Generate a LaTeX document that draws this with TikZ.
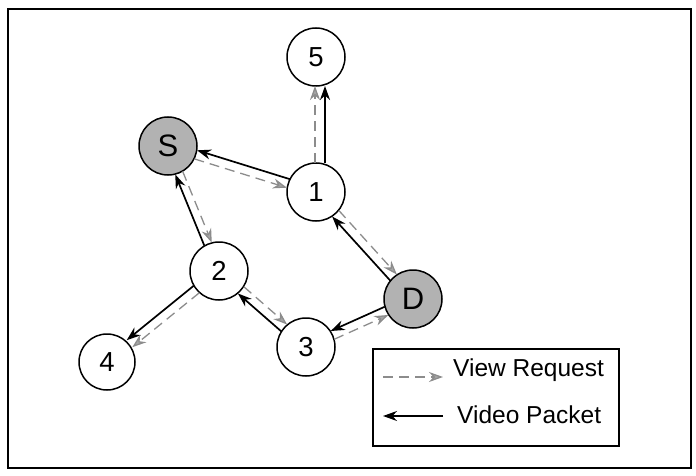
\documentclass[tikz,border=0pt]{standalone}
\usepackage{fontspec}
\setmainfont{Liberation Sans}
\usetikzlibrary{calc,arrows.meta}
\tikzset{
  vnode/.style={circle,draw=black,line width=1.5pt,fill=white,minimum size=58pt,inner sep=0pt,
    font=\fontsize{27.5}{27.5}\selectfont},
  endnode/.style={vnode,fill=black!30,font=\fontsize{31}{31}\selectfont},
  video/.style={draw=black,line width=1.7pt,-{Stealth[length=14pt,width=10pt]}},
  request/.style={draw=black!45,line width=1.3pt,dash pattern=on 10pt off 6pt,
    -{Stealth[length=14pt,width=10pt,color=black!45,fill=black!35]}},
  legtext/.style={anchor=west,inner sep=0pt,font=\fontsize{24.5}{24.5}\selectfont}
}
\newcommand\pairlink[4]{%
  \path ($(#2.center)!#4!90:(#3.center)$) coordinate (lkA)
        ($(#3.center)!#4!-90:(#2.center)$) coordinate (lkB);
  \draw[#1] ($(lkA)!29pt!(lkB)$) -- ($(lkB)!29pt!(lkA)$);
}
\begin{document}
\begin{tikzpicture}[x=1pt,y=-1pt]
\useasboundingbox (0,0) rectangle (696,476);
\draw[line width=2.5pt] (8,9) rectangle (691,468);
% nodes
\node[vnode] (n5) at (316,57) {5};
\node[endnode] (S) at (168,146) {S};
\node[vnode] (n1) at (316,192) {1};
\node[vnode] (n2) at (219,271) {2};
\node[endnode] (D) at (413,299) {D};
\node[vnode] (n3) at (306,347) {3};
\node[vnode,minimum size=56pt] (n4) at (107,362) {4};
% connectors
\pairlink{video}{n1}{n5}{-9pt}
\pairlink{request}{n1}{n5}{1pt}
\pairlink{video}{n1}{S}{-4.5pt}
\pairlink{request}{S}{n1}{-4.5pt}
\pairlink{video}{n2}{S}{4pt}
\pairlink{request}{S}{n2}{4pt}
\pairlink{video}{D}{n1}{4.5pt}
\pairlink{request}{n1}{D}{4.5pt}
\pairlink{video}{n3}{n2}{4.5pt}
\pairlink{request}{n2}{n3}{4.5pt}
\pairlink{video}{D}{n3}{-4.5pt}
\pairlink{request}{n3}{D}{-4.5pt}
\pairlink{video}{n2}{n4}{-4.5pt}
\pairlink{request}{n2}{n4}{4.5pt}
% legend
\node[draw=black,line width=2pt,minimum width=246pt,minimum height=97pt,inner sep=0pt,anchor=north west] (legend) at (372,348) {};
\coordinate (rqA) at (383,377);
\coordinate (rqB) at (443,377);
\coordinate (vdA) at (443,416);
\coordinate (vdB) at (383,416);
\draw[request] (rqA) -- (rqB);
\draw[video] (vdA) -- (vdB);
\node[legtext] (lrq) at (453,370) {View Request};
\node[legtext] (lvd) at (457,415) {Video Packet};
\end{tikzpicture}
\end{document}
